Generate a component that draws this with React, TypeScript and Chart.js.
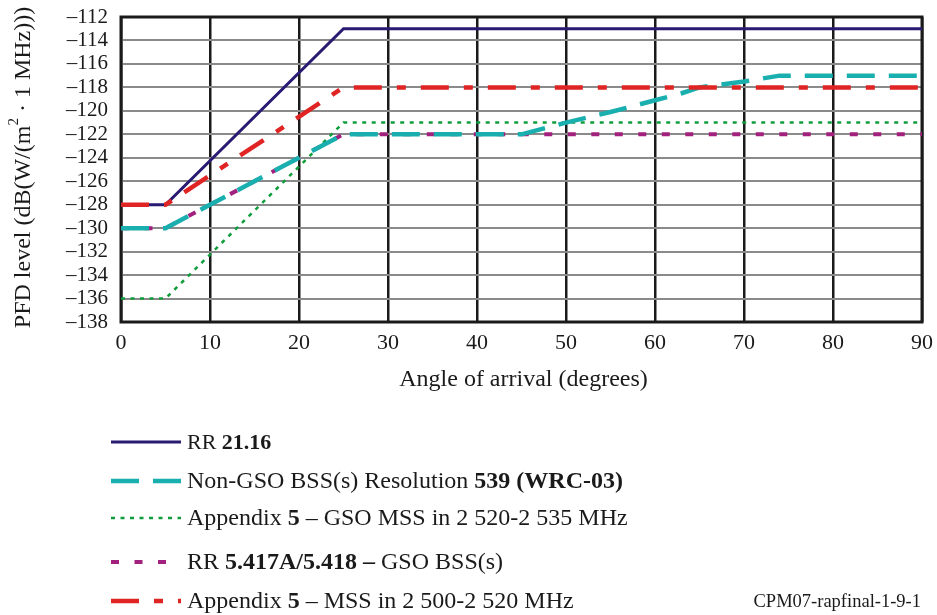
import React, { useEffect, useRef } from "react";
import { Chart, registerables } from "chart.js";

Chart.register(...registerables);

// ---- Data ----
const xTickValues = [0, 10, 20, 30, 40, 50, 60, 70, 80, 90];
const yTickValues = [-112, -114, -116, -118, -120, -122, -124, -126, -128, -130, -132, -134, -136, -138];

const rrAngles = [0, 5, 25, 90];
const rrLevels = [-128, -128, -113, -113];

const nonGsoAngles = [0, 5, 25, 45, 50, 55, 60, 63, 65, 70, 74, 90];
const nonGsoLevels = [-130, -130, -122, -122, -121, -120.1, -119.1, -118.5, -118, -117.5, -117, -117];

const app5GsoMssAngles = [0, 5, 25, 90];
const app5GsoMssLevels = [-136, -136, -121, -121];

const gsoBssAngles = [0, 5, 25, 90];
const gsoBssLevels = [-130, -130, -122, -122];

const app5MssAngles = [0, 5, 25, 90];
const app5MssLevels = [-128, -128, -118, -118];

const legendRR: [string, boolean][] = [["RR ", false], ["21.16", true]];
const legendNonGso: [string, boolean][] = [["Non-GSO BSS(s) Resolution ", false], ["539 (WRC-03)", true]];
const legendApp5Gso: [string, boolean][] = [["Appendix ", false], ["5", true], [" – GSO MSS in 2 520-2 535 MHz", false]];
const legendGsoBss: [string, boolean][] = [["RR ", false], ["5.417A/5.418 –", true], [" GSO BSS(s)", false]];
const legendApp5Mss: [string, boolean][] = [["Appendix ", false], ["5", true], [" – MSS in 2 500-2 520 MHz", false]];

const xTitle = "Angle of arrival (degrees)";
const yTitleA = "PFD level (dB(W/(m";
const yTitleSup = "2";
const yTitleB = " · 1 MHz)))";
const footnote = "CPM07-rapfinal-1-9-1";

const FONT = "'Liberation Serif', 'Times New Roman', serif";

const toPoints = (xs: number[], ys: number[]) => xs.map((x, i) => ({ x, y: ys[i] }));

export default function App() {
  const ref = useRef<HTMLCanvasElement | null>(null);

  useEffect(() => {
    if (!ref.current) return;

    const datasets: any[] = [
      {
        label: "RR 21.16",
        data: toPoints(rrAngles, rrLevels),
        borderColor: "#2b1a72",
        borderWidth: 3,
        borderDash: [],
        order: 5,
        legendText: legendRR,
        legendSize: 22,
      },
      {
        label: "Non-GSO BSS(s) Resolution 539 (WRC-03)",
        data: toPoints(nonGsoAngles, nonGsoLevels),
        borderColor: "#1aafaf",
        borderWidth: 4.5,
        borderDash: [28, 14],
        order: 2,
        legendText: legendNonGso,
        legendSize: 24,
      },
      {
        label: "Appendix 5 – GSO MSS in 2 520-2 535 MHz",
        data: toPoints(app5GsoMssAngles, app5GsoMssLevels),
        borderColor: "#0f9d3c",
        borderWidth: 2.5,
        borderDash: [4, 5.5],
        order: 4,
        legendText: legendApp5Gso,
        legendSize: 24,
      },
      {
        label: "RR 5.417A/5.418 – GSO BSS(s)",
        data: toPoints(gsoBssAngles, gsoBssLevels),
        borderColor: "#a3217e",
        borderWidth: 4,
        borderDash: [8, 15.5],
        order: 3,
        legendText: legendGsoBss,
        legendSize: 24,
      },
      {
        label: "Appendix 5 – MSS in 2 500-2 520 MHz",
        data: toPoints(app5MssAngles, app5MssLevels),
        borderColor: "#e02424",
        borderWidth: 4.5,
        borderDash: [28, 15, 9, 15],
        order: 1,
        legendText: legendApp5Mss,
        legendSize: 24,
      },
    ].map((d) => ({
      ...d,
      pointRadius: 0,
      fill: false,
      tension: 0,
      borderCapStyle: "butt",
      borderJoinStyle: "miter",
    }));

    const framePlugin = {
      id: "frame",
      beforeDatasetsDraw(chart: any) {
        const { ctx, chartArea: a } = chart;
        ctx.save();
        ctx.strokeStyle = "#1a1a1a";
        ctx.lineWidth = 3;
        ctx.strokeRect(a.left, a.top, a.right - a.left, a.bottom - a.top);
        ctx.restore();
      },
      afterDraw(chart: any) {
        const { ctx, chartArea: a } = chart;
        ctx.save();
        ctx.fillStyle = "#1a1a1a";
        ctx.textBaseline = "middle";

        // x title
        ctx.font = `24px ${FONT}`;
        ctx.textAlign = "center";
        ctx.fillText(xTitle, (a.left + a.right) / 2 + 2, 380);

        // y title (rotated) with superscript
        ctx.save();
        ctx.translate(24, (a.top + a.bottom) / 2 - 2);
        ctx.rotate(-Math.PI / 2);
        ctx.font = `24px ${FONT}`;
        const wA = ctx.measureText(yTitleA).width;
        ctx.font = `15px ${FONT}`;
        const wS = ctx.measureText(yTitleSup).width;
        ctx.font = `24px ${FONT}`;
        const wB = ctx.measureText(yTitleB).width;
        let x0 = -(wA + wS + wB) / 2;
        ctx.textAlign = "left";
        ctx.fillText(yTitleA, x0, 0);
        x0 += wA;
        ctx.font = `15px ${FONT}`;
        ctx.fillText(yTitleSup, x0, -10);
        x0 += wS;
        ctx.font = `24px ${FONT}`;
        ctx.fillText(yTitleB, x0, 0);
        ctx.restore();

        // legend
        const rows = [442, 481, 518, 562, 601];
        const order = [0, 1, 2, 3, 4];
        order.forEach((di, r) => {
          const ds = chart.data.datasets[di];
          const y = rows[r];
          ctx.save();
          ctx.strokeStyle = ds.borderColor;
          ctx.lineWidth = ds.borderWidth;
          ctx.setLineDash(ds.borderDash || []);
          ctx.lineCap = "butt";
          ctx.beginPath();
          ctx.moveTo(111, y);
          ctx.lineTo(181, y);
          ctx.stroke();
          ctx.restore();
          let tx = 187;
          ctx.textAlign = "left";
          (ds.legendText as [string, boolean][]).forEach(([t, b]) => {
            ctx.font = `${b ? "bold " : ""}${ds.legendSize}px ${FONT}`;
            ctx.fillText(t, tx, y + 1);
            tx += ctx.measureText(t).width;
          });
        });

        // footnote
        ctx.font = `18.5px ${FONT}`;
        ctx.textAlign = "right";
        ctx.fillText(footnote, 921, 602);
        ctx.restore();
      },
    };

    const chart = new Chart(ref.current, {
      type: "line",
      data: { datasets },
      options: {
        animation: false,
        responsive: false,
        maintainAspectRatio: false,
        events: [],
        layout: { padding: { left: 0, top: 17, right: 15, bottom: 213 } },
        plugins: { legend: { display: false }, tooltip: { enabled: false } },
        scales: {
          x: {
            type: "linear",
            min: 0,
            max: 90,
            afterBuildTicks(scale: any) {
              scale.ticks = xTickValues.map((v) => ({ value: v }));
            },
            afterFit(scale: any) {
              scale.height = 80;
              scale.paddingLeft = 0;
              scale.paddingRight = 0;
            },
            grid: { color: "#1a1a1a", lineWidth: 2.5, drawTicks: false },
            border: { display: false },
            ticks: {
              color: "#1a1a1a",
              font: { family: FONT, size: 22 },
              padding: 8,
              maxRotation: 0,
              autoSkip: false,
            },
          },
          y: {
            type: "linear",
            min: -138,
            max: -112,
            afterBuildTicks(scale: any) {
              scale.ticks = yTickValues.map((v) => ({ value: v }));
            },
            afterFit(scale: any) {
              scale.width = 121;
              scale.paddingTop = 0;
              scale.paddingBottom = 0;
            },
            grid: { color: "#8a8a8a", lineWidth: 2, drawTicks: false },
            border: { display: false },
            ticks: {
              color: "#1a1a1a",
              font: { family: FONT, size: 21 },
              padding: 13,
              autoSkip: false,
              callback: (v: any) => "–" + Math.abs(Number(v)),
            },
          },
        },
      },
      plugins: [framePlugin],
    });

    return () => chart.destroy();
  }, []);

  return (
    <div style={{ position: "fixed", left: 0, top: 0, width: 937, height: 615, background: "#fff" }}>
      <canvas ref={ref} width={937} height={615} style={{ width: 937, height: 615, display: "block" }} />
    </div>
  );
}
